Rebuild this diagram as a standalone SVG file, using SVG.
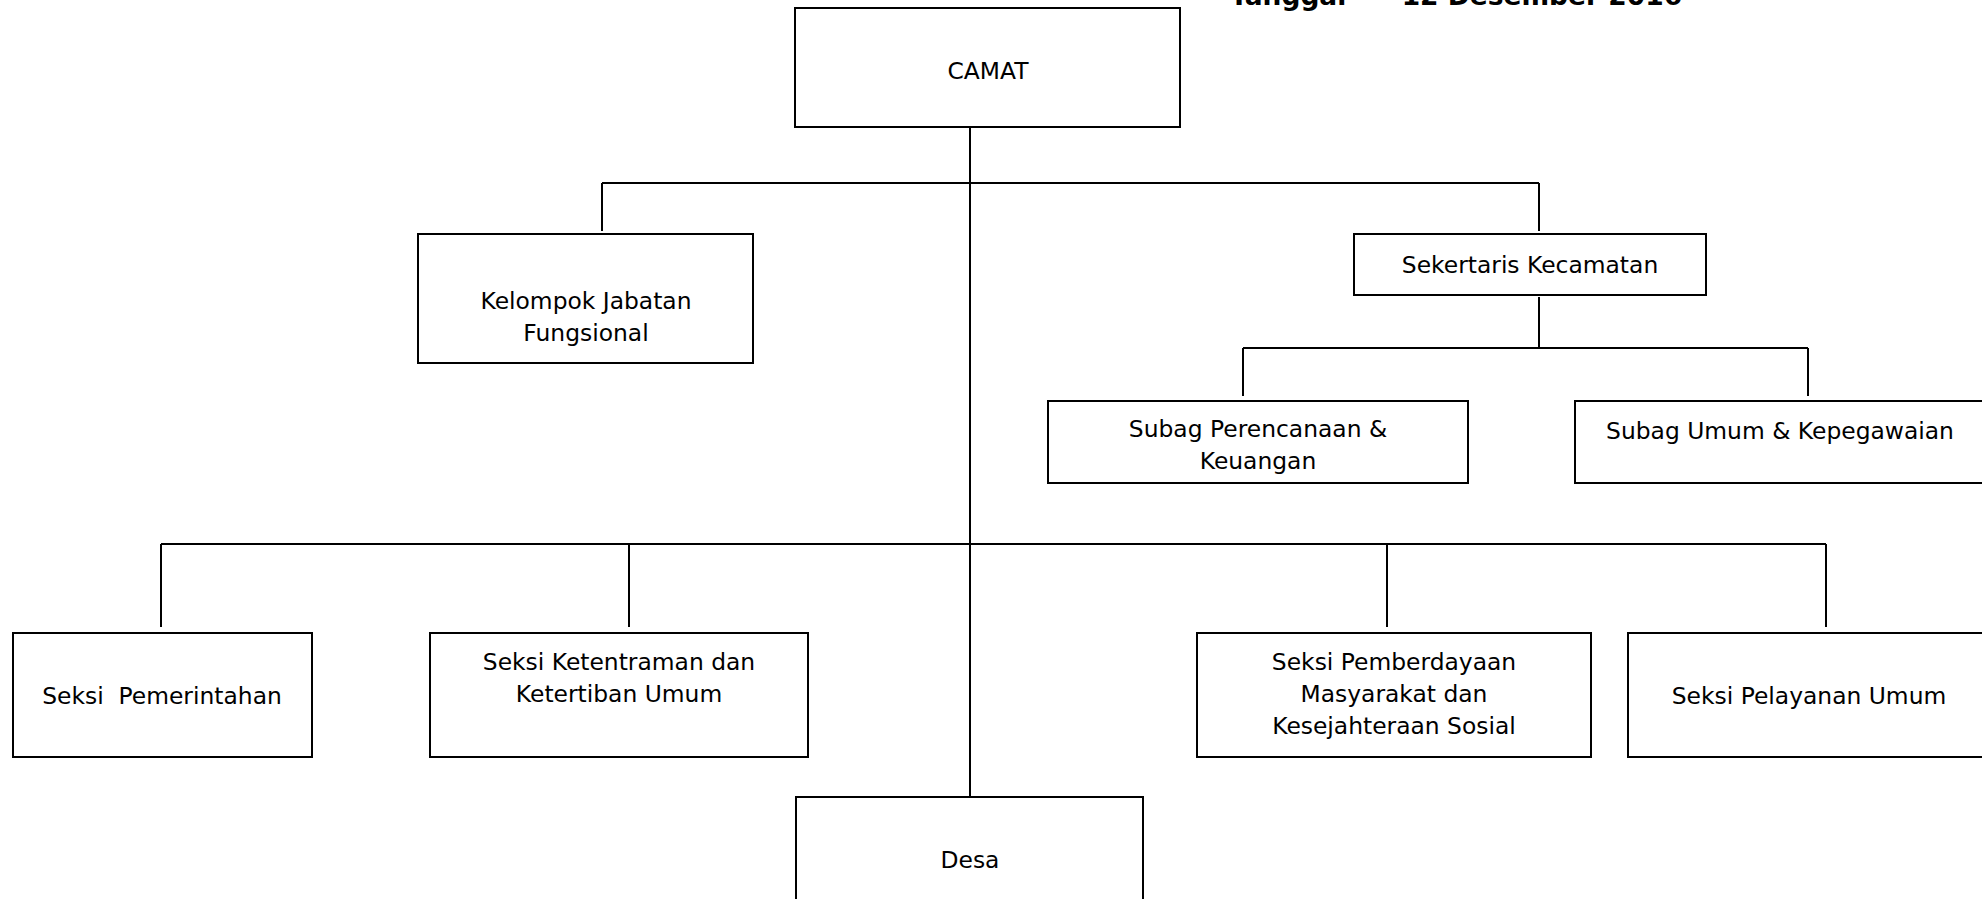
<svg xmlns="http://www.w3.org/2000/svg" width="1982" height="899" viewBox="0 0 1982 899">
<style>
.box{fill:#fff;stroke:#000;stroke-width:2}
.ln{stroke:#000;stroke-width:2;fill:none}
.t{font-family:"DejaVu Sans",Verdana,sans-serif;font-size:23.4px;fill:#000;text-anchor:middle}
.title{font-family:"DejaVu Sans",Verdana,sans-serif;font-size:26.5px;font-weight:bold;fill:#000}
</style>
<rect width="1982" height="899" fill="#fff"/>
<text class="title" x="1230" y="5" xml:space="preserve">Tanggal      12 Desember 2016</text>
<g id="connectors">
<line class="ln" x1="970" y1="127" x2="970" y2="797"/>
<line class="ln" x1="602" y1="183" x2="1539" y2="183"/>
<line class="ln" x1="602" y1="183" x2="602" y2="231"/>
<line class="ln" x1="1539" y1="183" x2="1539" y2="231"/>
<line class="ln" x1="1539" y1="297" x2="1539" y2="348"/>
<line class="ln" x1="1243" y1="348" x2="1808" y2="348"/>
<line class="ln" x1="1243" y1="348" x2="1243" y2="396"/>
<line class="ln" x1="1808" y1="348" x2="1808" y2="396"/>
<line class="ln" x1="161" y1="544" x2="1826" y2="544"/>
<line class="ln" x1="161" y1="544" x2="161" y2="627"/>
<line class="ln" x1="629" y1="544" x2="629" y2="627"/>
<line class="ln" x1="1387" y1="544" x2="1387" y2="627"/>
<line class="ln" x1="1826" y1="544" x2="1826" y2="627"/>
</g>
<g id="camat"><rect class="box" x="795" y="8" width="385" height="119"/><text class="t" x="988" y="79">CAMAT</text></g>
<g id="kelompok"><rect class="box" x="418" y="234" width="335" height="129"/><text class="t" x="586" y="309">Kelompok Jabatan</text><text class="t" x="586" y="341">Fungsional</text></g>
<g id="sekertaris"><rect class="box" x="1354" y="234" width="352" height="61"/><text class="t" x="1530" y="273">Sekertaris Kecamatan</text></g>
<g id="subag-perencanaan"><rect class="box" x="1048" y="401" width="420" height="82"/><text class="t" x="1258" y="437">Subag Perencanaan &amp;</text><text class="t" x="1258" y="469">Keuangan</text></g>
<g id="subag-umum"><rect class="box" x="1575" y="401" width="411" height="82"/><text class="t" x="1780" y="439">Subag Umum &amp; Kepegawaian</text></g>
<g id="seksi-pemerintahan"><rect class="box" x="13" y="633" width="299" height="124"/><text class="t" x="162" y="704" xml:space="preserve">Seksi  Pemerintahan</text></g>
<g id="seksi-ketentraman"><rect class="box" x="430" y="633" width="378" height="124"/><text class="t" x="619" y="670">Seksi Ketentraman dan</text><text class="t" x="619" y="702">Ketertiban Umum</text></g>
<g id="seksi-pemberdayaan"><rect class="box" x="1197" y="633" width="394" height="124"/><text class="t" x="1394" y="670">Seksi Pemberdayaan</text><text class="t" x="1394" y="702">Masyarakat dan</text><text class="t" x="1394" y="734">Kesejahteraan Sosial</text></g>
<g id="seksi-pelayanan"><rect class="box" x="1628" y="633" width="362" height="124"/><text class="t" x="1809" y="704">Seksi Pelayanan Umum</text></g>
<g id="desa"><rect class="box" x="796" y="797" width="347" height="110"/><text class="t" x="970" y="868">Desa</text></g>
</svg>
